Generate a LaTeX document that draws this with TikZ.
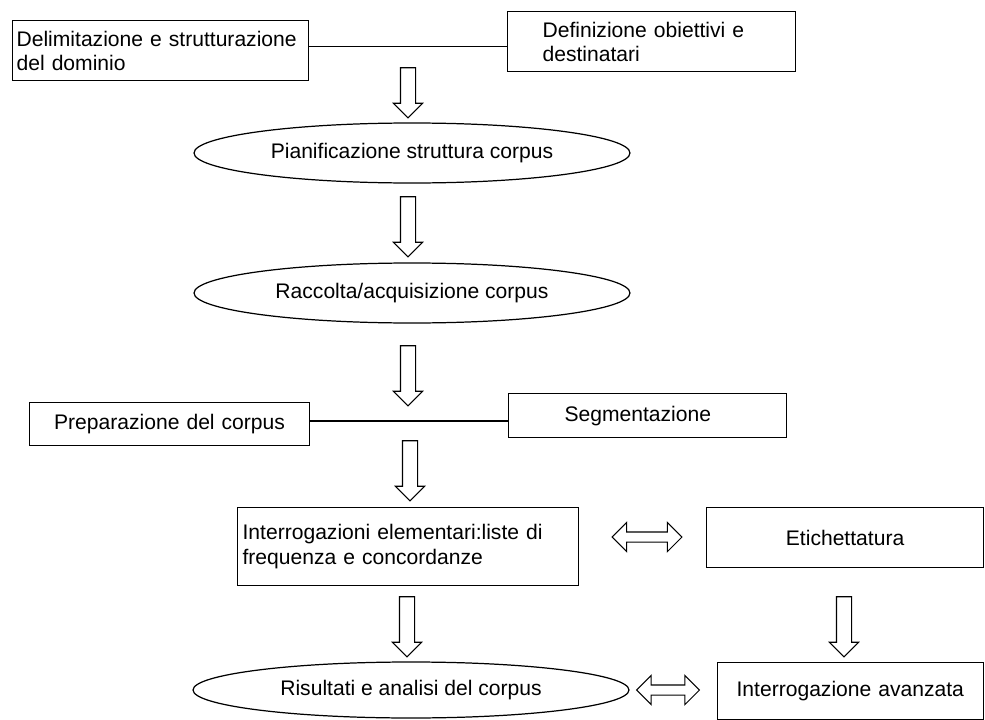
\documentclass[tikz,border=0pt]{standalone}
\usepackage{fontspec}
\setmainfont{Liberation Sans}
\usepackage{tikz}
\usetikzlibrary{shapes.geometric, shapes.arrows, calc}

\begin{document}
\begin{tikzpicture}[
    x=0.02cm, y=-0.02cm,
    every node/.style={font=\fontsize{12}{13.8}\selectfont},
    box/.style={rectangle, draw, line width=0.7pt, anchor=north west, inner ysep=0pt, align=left},
    phase/.style={ellipse, draw, line width=0.7pt, inner sep=0pt, minimum width=8.72cm, minimum height=1.2cm},
    down/.style={single arrow, draw, line width=0.6pt, inner xsep=0pt, inner ysep=0.14cm,
        single arrow head extend=0.14cm, single arrow head indent=0pt, minimum height=#1, rotate=-90},
    both/.style={double arrow, draw, line width=0.6pt, inner xsep=0pt, inner ysep=0.09cm,
        double arrow head extend=0.19cm, double arrow head indent=0pt, minimum height=#1},
    link/.style={line width=0.7pt}
]
    \useasboundingbox (0,0) rectangle (985,720);

    % Top boxes
    \node[box, inner xsep=0.08cm, text width=5.76cm, minimum height=1.2cm] (dom) at (12,20)
        {Delimitazione e strutturazione\\del dominio};
    \node[box, inner xsep=0.7cm, text width=4.36cm, minimum height=1.2cm] (obi) at (507,11)
        {Definizione obiettivi e\\destinatari};
    \draw[link] ([yshift=0.08cm]dom.east) -- ([yshift=0.08cm]dom.east -| obi.west);

    % Phases
    \node[down=1cm] (a1) at (408,89) {};
    \node[phase] (pian) at (412,153) {Pianificazione struttura corpus};
    \node[down=1.2cm] (a2) at (408,223) {};
    \node[phase] (racc) at (412,293) {Raccolta/acquisizione corpus};
    \node[down=1.2cm] (a3) at (408,372) {};

    % Preparation
    \node[box, inner xsep=0.2cm, text width=5.2cm, minimum height=0.86cm, align=center] (prep) at (29,402)
        {Preparazione del corpus};
    \node[box, inner xsep=1.12cm, text width=3.32cm, minimum height=0.88cm] (seg) at (508,393)
        {Segmentazione};
    \draw[link] ([yshift=0.06cm]prep.east) -- ([yshift=0.06cm]prep.east -| seg.west);
    \node[down=1.2cm] (a4) at (410,467) {};

    % Queries
    \node[box, inner xsep=0.1cm, text width=6.62cm, minimum height=1.56cm] (elem) at (237,507)
        {Interrogazioni elementari:liste di\\frequenza e concordanze};
    \node[both=1.4cm] (d1) at (647,537) {};
    \node[box, inner xsep=0.2cm, text width=5.14cm, minimum height=1.2cm, align=center] (etic) at (706,507)
        {Etichettatura};
    \node[down=1.2cm] (a5) at (407,623) {};
    \node[down=1.2cm] (a6) at (844,623) {};

    % Results
    \node[phase, minimum height=1.12cm] (ris) at (411,690) {Risultati e analisi del corpus};
    \node[both=1.26cm] (d2) at (668,690) {};
    \node[box, inner xsep=0.38cm, text width=4.56cm, minimum height=1.14cm] (avz) at (717,662)
        {Interrogazione avanzata};
\end{tikzpicture}
\end{document}
